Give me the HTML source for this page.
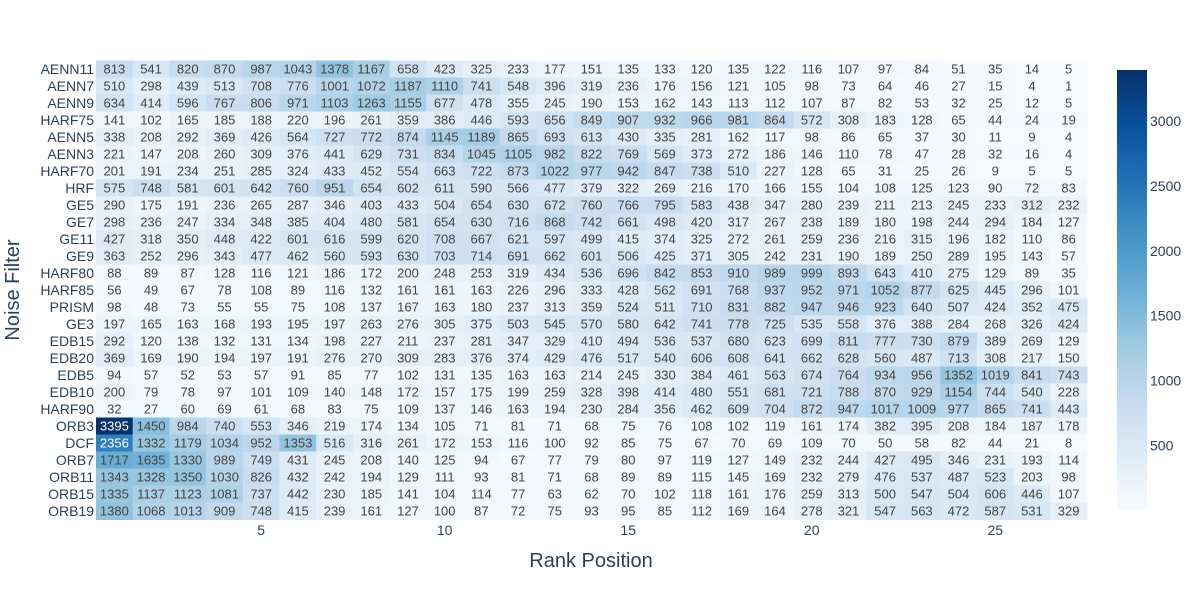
<!DOCTYPE html>
<html><head><meta charset="utf-8"><style>
body{margin:0;background:#fff;font-family:"Liberation Sans",sans-serif}
svg text{font-family:"Liberation Sans",sans-serif}
</style></head><body>
<svg id="c" width="1200" height="600"></svg>
<script>
const rowLabels=["AENN11","AENN7","AENN9","HARF75","AENN5","AENN3","HARF70","HRF","GE5","GE7","GE11","GE9","HARF80","HARF85","PRISM","GE3","EDB15","EDB20","EDB5","EDB10","HARF90","ORB3","DCF","ORB7","ORB11","ORB15","ORB19"];
const xTicks=[5,10,15,20,25];
const cbTicks=[500,1000,1500,2000,2500,3000];
const r00=[813,541,820,870,987,1043,1378,1167,658,423,325,233,177,151,135,133,120,135,122,116,107,97,84,51,35,14,5];
const r01=[510,298,439,513,708,776,1001,1072,1187,1110,741,548,396,319,236,176,156,121,105,98,73,64,46,27,15,4,1];
const r02=[634,414,596,767,806,971,1103,1263,1155,677,478,355,245,190,153,162,143,113,112,107,87,82,53,32,25,12,5];
const r03=[141,102,165,185,188,220,196,261,359,386,446,593,656,849,907,932,966,981,864,572,308,183,128,65,44,24,19];
const r04=[338,208,292,369,426,564,727,772,874,1145,1189,865,693,613,430,335,281,162,117,98,86,65,37,30,11,9,4];
const r05=[221,147,208,260,309,376,441,629,731,834,1045,1105,982,822,769,569,373,272,186,146,110,78,47,28,32,16,4];
const r06=[201,191,234,251,285,324,433,452,554,663,722,873,1022,977,942,847,738,510,227,128,65,31,25,26,9,5,5];
const r07=[575,748,581,601,642,760,951,654,602,611,590,566,477,379,322,269,216,170,166,155,104,108,125,123,90,72,83];
const r08=[290,175,191,236,265,287,346,403,433,504,654,630,672,760,766,795,583,438,347,280,239,211,213,245,233,312,232];
const r09=[298,236,247,334,348,385,404,480,581,654,630,716,868,742,661,498,420,317,267,238,189,180,198,244,294,184,127];
const r10=[427,318,350,448,422,601,616,599,620,708,667,621,597,499,415,374,325,272,261,259,236,216,315,196,182,110,86];
const r11=[363,252,296,343,477,462,560,593,630,703,714,691,662,601,506,425,371,305,242,231,190,189,250,289,195,143,57];
const r12=[88,89,87,128,116,121,186,172,200,248,253,319,434,536,696,842,853,910,989,999,893,643,410,275,129,89,35];
const r13=[56,49,67,78,108,89,116,132,161,161,163,226,296,333,428,562,691,768,937,952,971,1052,877,625,445,296,101];
const r14=[98,48,73,55,55,75,108,137,167,163,180,237,313,359,524,511,710,831,882,947,946,923,640,507,424,352,475];
const r15=[197,165,163,168,193,195,197,263,276,305,375,503,545,570,580,642,741,778,725,535,558,376,388,284,268,326,424];
const r16=[292,120,138,132,131,134,198,227,211,237,281,347,329,410,494,536,537,680,623,699,811,777,730,879,389,269,129];
const r17=[369,169,190,194,197,191,276,270,309,283,376,374,429,476,517,540,606,608,641,662,628,560,487,713,308,217,150];
const r18=[94,57,52,53,57,91,85,77,102,131,135,163,163,214,245,330,384,461,563,674,764,934,956,1352,1019,841,743];
const r19=[200,79,78,97,101,109,140,148,172,157,175,199,259,328,398,414,480,551,681,721,788,870,929,1154,744,540,228];
const r20=[32,27,60,69,61,68,83,75,109,137,146,163,194,230,284,356,462,609,704,872,947,1017,1009,977,865,741,443];
const r21=[3395,1450,984,740,553,346,219,174,134,105,71,81,71,68,75,76,108,102,119,161,174,382,395,208,184,187,178];
const r22=[2356,1332,1179,1034,952,1353,516,316,261,172,153,116,100,92,85,75,67,70,69,109,70,50,58,82,44,21,8];
const r23=[1717,1635,1330,989,749,431,245,208,140,125,94,67,77,79,80,97,119,127,149,232,244,427,495,346,231,193,114];
const r24=[1343,1328,1350,1030,826,432,242,194,129,111,93,81,71,68,89,89,115,145,169,232,279,476,537,487,523,203,98];
const r25=[1335,1137,1123,1081,737,442,230,185,141,104,114,77,63,62,70,102,118,161,176,259,313,500,547,504,606,446,107];
const r26=[1380,1068,1013,909,748,415,239,161,127,100,87,72,75,93,95,85,112,169,164,278,321,547,563,472,587,531,329];
const values=[r00,r01,r02,r03,r04,r05,r06,r07,r08,r09,r10,r11,r12,r13,r14,r15,r16,r17,r18,r19,r20,r21,r22,r23,r24,r25,r26];

const NS="http://www.w3.org/2000/svg";
const svg=document.getElementById('c');
const L=96,R=1087,T=60.5,B=519.5;
const nC=values[0].length,nR=values.length;
const cw=(R-L)/nC,rh=(B-T)/nR;
const all=values.flat();
const vmin=Math.min(...all),vmax=Math.max(...all);
const xPos=c=>L+(c-1)*cw; // c is 1-based rank
const yPos=r=>T+r*rh;
const stops=[[0,[247,251,255]],[0.125,[222,235,247]],[0.25,[198,219,239]],[0.375,[158,202,225]],[0.5,[107,174,214]],[0.625,[66,146,198]],[0.75,[33,113,181]],[0.875,[8,81,156]],[1,[8,48,107]]];
function col(v){let t=(v-vmin)/(vmax-vmin);t=Math.max(0,Math.min(1,t));
for(let i=1;i<stops.length;i++){if(t<=stops[i][0]){const a=stops[i-1],b=stops[i];const f=(t-a[0])/(b[0]-a[0]);
return 'rgb('+a[1].map((x,k)=>Math.round(x+(b[1][k]-x)*f)).join(',')+')';}}return 'rgb(8,48,107)';}
function el(t,a,txt){const e=document.createElementNS(NS,t);for(const k in a)e.setAttribute(k,a[k]);if(txt!==undefined)e.textContent=txt;svg.appendChild(e);return e;}

values.forEach((row,r)=>{
  const lab=el('text',{x:L-2,y:yPos(r)+rh/2+5,'text-anchor':'end','font-size':14,fill:'#2a3f5f'},rowLabels[r]);
  
  
  row.forEach((v,c)=>{
    const x=xPos(c+1),y=yPos(r);
    const rc=el('rect',{x:x,y:y,width:cw+0.5,height:rh+0.5,fill:col(v)});
    
    
    const t=(v-vmin)/(vmax-vmin);
    const tx=el('text',{x:x+cw/2,y:y+rh/2+4.5,'text-anchor':'middle','font-size':13,fill:t>0.6?'#fff':'#444'},String(v));
    
    
  });
});
xTicks.forEach(k=>{
  const t=el('text',{x:xPos(k)+cw/2,y:535,'text-anchor':'middle','font-size':14,fill:'#2a3f5f'},String(k));
  
  
});
const xt=el('text',{x:591,y:567,'text-anchor':'middle','font-size':20,fill:'#2a3f5f'},'Rank Position');


const yt=el('text',{x:19,y:290,'text-anchor':'middle','font-size':20,fill:'#2a3f5f',transform:'rotate(-90 19 290)'},'Noise Filter');



// colorbar
const defs=el('defs',{});
const g=document.createElementNS(NS,'linearGradient');g.setAttribute('id','cbg');g.setAttribute('x1','0');g.setAttribute('y1','1');g.setAttribute('x2','0');g.setAttribute('y2','0');
stops.forEach(s=>{const st=document.createElementNS(NS,'stop');st.setAttribute('offset',s[0]);st.setAttribute('stop-color','rgb('+s[1].join(',')+')');g.appendChild(st);});
defs.appendChild(g);
const cT=70,cB=510;
const cb=el('rect',{x:1117,y:cT,width:30,height:cB-cT,fill:'url(#cbg)'});


const cy=v=>cB-(v-vmin)/(vmax-vmin)*(cB-cT);
cbTicks.forEach(v=>{
  const t=el('text',{x:1150,y:cy(v)+5,'font-size':14,fill:'#2a3f5f'},String(v));
  
  
});
</script>
</body></html>
